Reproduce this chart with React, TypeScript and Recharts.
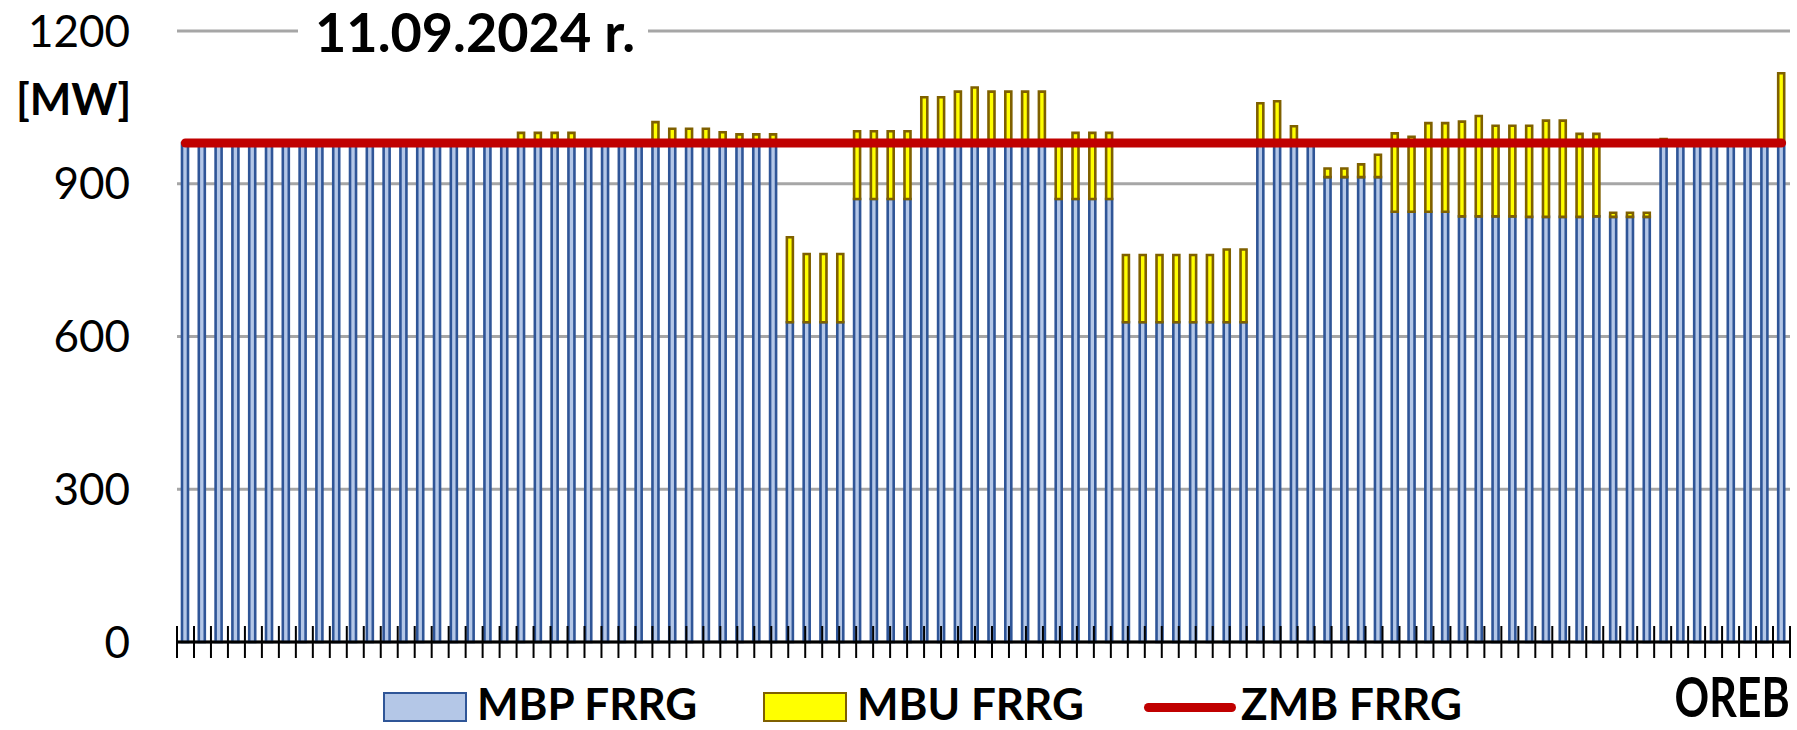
import React from "react";
import {
  ComposedChart,
  Bar,
  Line,
  XAxis,
  YAxis,
  CartesianGrid,
  Legend,
} from "recharts";

// 96 quarter-hour periods of 11.09.2024
const periods = Array.from({ length: 96 }, (_, i) => String(i + 1));

// MBP FRRG [MW]
const mbp = [
  980, 980, 980, 980, 980, 980, 980, 980, 980, 980, 980, 980,
  980, 980, 980, 980, 980, 980, 980, 980, 980, 980, 980, 980,
  980, 980, 980, 980, 980, 980, 980, 980, 980, 980, 980, 980,
  628, 628, 628, 628, 870, 870, 870, 870, 980, 980, 980, 980,
  980, 980, 980, 980, 870, 870, 870, 870, 628, 628, 628, 628,
  628, 628, 628, 628, 980, 980, 980, 980, 913, 913, 913, 913,
  845, 845, 845, 845, 836, 836, 836, 836, 835, 835, 835, 835,
  836, 835, 835, 835, 980, 980, 980, 980, 980, 980, 980, 980,
];

// MBU FRRG [MW], stacked on MBP
const mbu = [
  0, 0, 0, 0, 0, 0, 0, 0, 0, 0, 0, 0,
  0, 0, 0, 0, 0, 0, 0, 0, 20, 20, 20, 20,
  0, 0, 0, 0, 41, 28, 28, 28, 21, 17, 17, 17,
  167, 134, 134, 134, 133, 133, 133, 133, 90, 90, 101, 109,
  101, 101, 101, 101, 110, 130, 130, 130, 132, 132, 132, 132,
  132, 132, 143, 143, 78, 82, 33, 0, 17, 17, 25, 44,
  154, 147, 174, 174, 186, 197, 178, 178, 179, 189, 189, 163,
  162, 8, 8, 8, 8, 0, 0, 0, 0, 0, 0, 137,
];

// ZMB FRRG [MW]
const zmb = [
  980, 980, 980, 980, 980, 980, 980, 980, 980, 980, 980, 980,
  980, 980, 980, 980, 980, 980, 980, 980, 980, 980, 980, 980,
  980, 980, 980, 980, 980, 980, 980, 980, 980, 980, 980, 980,
  980, 980, 980, 980, 980, 980, 980, 980, 980, 980, 980, 980,
  980, 980, 980, 980, 980, 980, 980, 980, 980, 980, 980, 980,
  980, 980, 980, 980, 980, 980, 980, 980, 980, 980, 980, 980,
  980, 980, 980, 980, 980, 980, 980, 980, 980, 980, 980, 980,
  980, 980, 980, 980, 980, 980, 980, 980, 980, 980, 980, 980,
];

const yTicks = [0, 300, 600, 900, 1200];
// tick marks sit on the borders between periods
const boundaryTicks = Array.from({ length: 97 }, (_, i) => i);

const data = periods.map((period, i) => ({
  period,
  mbp: mbp[i],
  mbu: mbu[i],
  zmb: zmb[i],
}));

const FONT = "Lato, 'Open Sans', sans-serif";

// cross tick: 16px above and 16px below the axis line
const BoundaryTick = (props: any) => {
  const { x, y } = props;
  return <line x1={x} x2={x} y1={y - 32} y2={y} stroke="#000" strokeWidth={2} />;
};

const legendLeft: Record<string, number> = { mbp: 383, mbu: 763, zmb: 1144 };

const LegendContent = (props: any) => {
  const { payload = [] } = props;
  return (
    <div style={{ position: "relative", width: 1797, height: 48 }}>
      {payload.map((entry: any) => {
        const key = entry.dataKey as string;
        const left = legendLeft[key] ?? 0;
        const isLine = entry.type === "line";
        return (
          <div key={key} style={{ position: "absolute", left, top: 0, height: 48 }}>
            {isLine ? (
              <div
                style={{
                  position: "absolute",
                  left: 0,
                  top: 24,
                  width: 92,
                  height: 9,
                  borderRadius: 5,
                  background: "#C00000",
                }}
              />
            ) : (
              <div
                style={{
                  position: "absolute",
                  left: 0,
                  top: 13,
                  width: 84,
                  height: 30,
                  boxSizing: "border-box",
                  background: key === "mbp" ? "#B4C7E7" : "#FFFF00",
                  border: `2.5px solid ${key === "mbp" ? "#2F5597" : "#7F6000"}`,
                }}
              />
            )}
            <span
              style={{
                position: "absolute",
                left: isLine ? 97 : 94,
                top: 2,
                fontFamily: FONT,
                fontWeight: 700,
                fontSize: 44,
                lineHeight: "44px",
                whiteSpace: "nowrap",
                color: "#000",
              }}
            >
              {entry.value}
            </span>
          </div>
        );
      })}
    </div>
  );
};

export default function App() {
  return (
    <div
      style={{
        position: "absolute",
        left: 0,
        top: 0,
        width: 1797,
        height: 730,
        background: "#fff",
        fontFamily: FONT,
        overflow: "hidden",
      }}
    >
      <ComposedChart
        width={1797}
        height={730}
        data={data}
        margin={{ top: 31, right: 7, bottom: 58, left: 0 }}
      >
        <CartesianGrid
          xAxisId="cat"
          vertical={false}
          stroke="#A6A6A6"
          strokeWidth={3}
        />
        <Bar
          xAxisId="cat"
          dataKey="mbp"
          name="MBP FRRG"
          stackId="a"
          fill="#B4C7E7"
          stroke="#2F5597"
          strokeWidth={2.6}
          barSize={6}
          isAnimationActive={false}
        />
        <Bar
          xAxisId="cat"
          dataKey="mbu"
          name="MBU FRRG"
          stackId="a"
          fill="#FFFF00"
          stroke="#7F6000"
          strokeWidth={2.6}
          barSize={6}
          isAnimationActive={false}
        />
        <Line
          xAxisId="cat"
          dataKey="zmb"
          name="ZMB FRRG"
          type="linear"
          stroke="#C00000"
          strokeWidth={9}
          strokeLinecap="round"
          dot={false}
          activeDot={false}
          isAnimationActive={false}
        />
        <XAxis xAxisId="cat" dataKey="period" hide height={0} />
        <XAxis
          xAxisId="grid"
          type="number"
          domain={[0, 96]}
          ticks={boundaryTicks}
          interval={0}
          allowDataOverflow
          height={30}
          axisLine={{ stroke: "#000", strokeWidth: 3 }}
          tickLine={false}
          tickSize={16}
          tickMargin={0}
          tick={<BoundaryTick />}
        />
        <YAxis
          domain={[0, 1200]}
          ticks={yTicks}
          interval={0}
          width={177}
          axisLine={false}
          tickLine={false}
          tickSize={0}
          tickMargin={47}
          tick={{ fill: "#000", fontSize: 44, fontFamily: FONT }}
        />
        <Legend
          layout="horizontal"
          verticalAlign="middle"
          align="center"
          wrapperStyle={{ top: 679, left: 0, width: 1797, height: 48 }}
          content={<LegendContent />}
        />
      </ComposedChart>

      <div
        style={{
          position: "absolute",
          left: 298,
          top: 5,
          width: 350,
          height: 54,
          background: "#fff",
          paddingLeft: 17,
          boxSizing: "border-box",
          fontWeight: 700,
          fontSize: 54,
          lineHeight: "54px",
          color: "#000",
          whiteSpace: "nowrap",
        }}
      >
        11.09.2024 r.
      </div>
      <div
        style={{
          position: "absolute",
          left: 16,
          top: 76,
          fontWeight: 700,
          fontSize: 44,
          lineHeight: "44px",
          color: "#000",
        }}
      >
        [MW]
      </div>
      <div
        style={{
          position: "absolute",
          right: 7,
          top: 669,
          fontWeight: 700,
          fontSize: 55,
          lineHeight: "55px",
          color: "#000",
          transform: "scaleX(0.78)",
          transformOrigin: "right center",
        }}
      >
        OREB
      </div>
    </div>
  );
}
